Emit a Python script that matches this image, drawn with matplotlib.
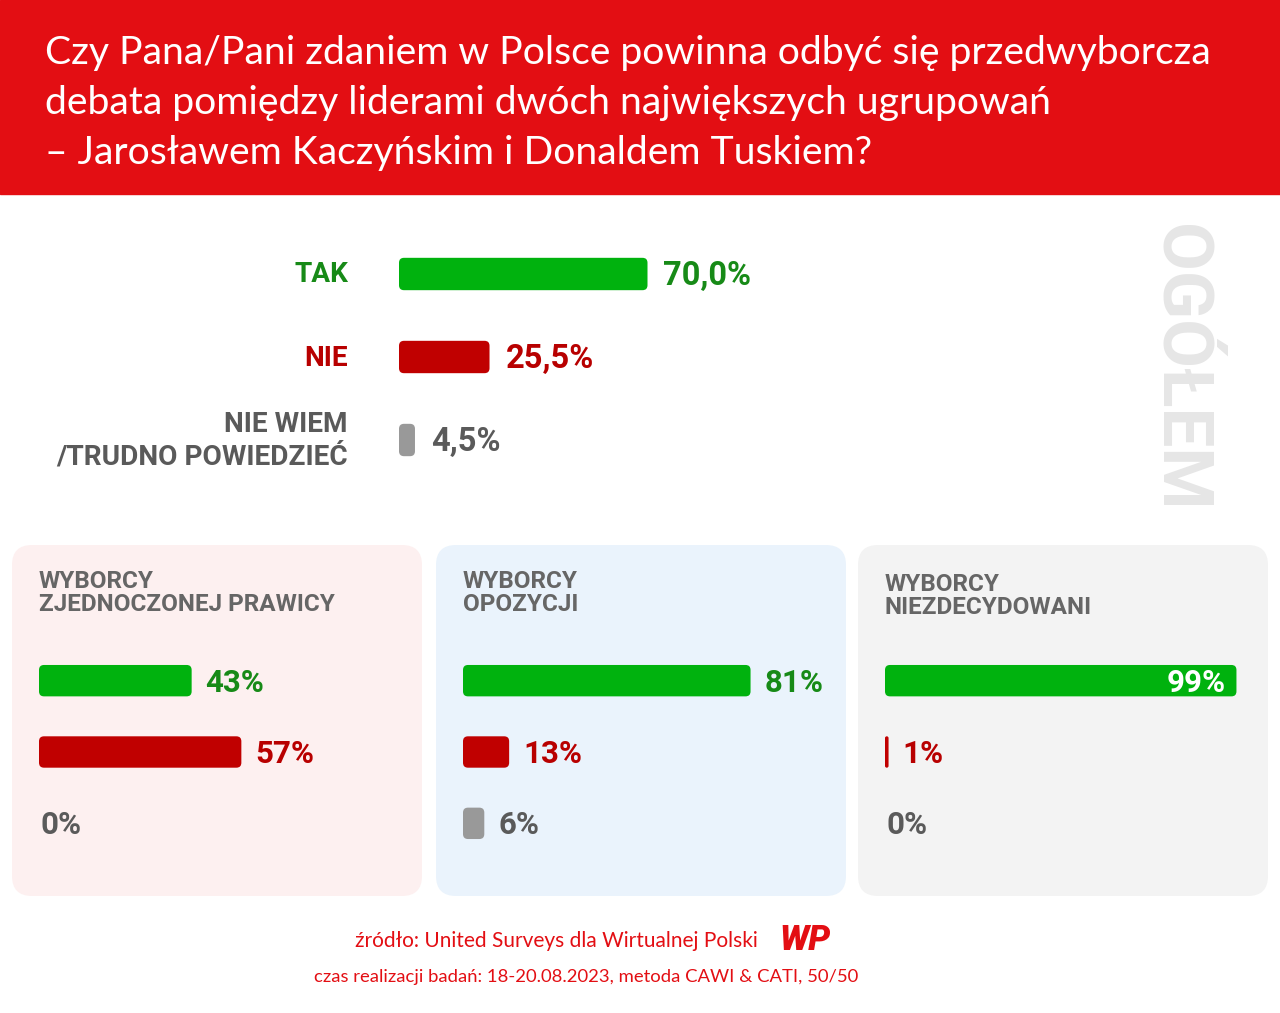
import matplotlib.pyplot as plt
from matplotlib.patches import FancyBboxPatch, Rectangle

# data
title_lines = ['Czy Pana/Pani zdaniem w Polsce powinna odbyć się przedwyborcza',
               'debata pomiędzy liderami dwóch największych ugrupowań',
               '– Jarosławem Kaczyńskim i Donaldem Tuskiem?']
answers = ['TAK', 'NIE', 'NIE WIEM\n/TRUDNO POWIEDZIEĆ']
overall = [70.0, 25.5, 4.5]
overall_labels = ['70,0%', '25,5%', '4,5%']

groups = ['WYBORCY\nZJEDNOCZONEJ PRAWICY', 'WYBORCY\nOPOZYCJI', 'WYBORCY\nNIEZDECYDOWANI']
group_values = [[43, 57, 0], [81, 13, 6], [99, 1, 0]]

source = 'źródło: United Surveys dla Wirtualnej Polski'
method = 'czas realizacji badań: 18-20.08.2023, metoda CAWI & CATI, 50/50'

bar_colors = ['#00b20e', '#c00000', '#999999']
text_colors = ['#178a17', '#b80000', '#5a5a5a']
panel_colors = ['#fdf0f0', '#eaf3fc', '#f3f3f3']
red = '#e30e13'

W, H = 1280, 1013
fig = plt.figure(figsize=(W / 100, H / 100), dpi=100)
fig.patch.set_facecolor('white')

# background axes in pixel units (y pointing down)
bg = fig.add_axes([0, 0, 1, 1])
bg.set_xlim(0, W)
bg.set_ylim(H, 0)
bg.axis('off')


def px_axes(x, y, w, h):
    ax = fig.add_axes([x / W, 1 - (y + h) / H, w / W, h / H])
    ax.set_xlim(0, 100)
    ax.set_ylim(2.5, -0.5)
    ax.axis('off')
    ax.patch.set_alpha(0)
    return ax


def round_bars(ax, bars, radius=5):
    # swap the square bars for rounded ones, same geometry
    inv = bg.transData.inverted()
    for b in bars:
        if b.get_width() <= 0:
            b.set_visible(False)
            continue
        (x0, y0), (x1, y1) = inv.transform(ax.transData.transform(
            [(b.get_x(), b.get_y()), (b.get_x() + b.get_width(), b.get_y() + b.get_height())]))
        x0, x1 = min(x0, x1), max(x0, x1)
        y0, y1 = min(y0, y1), max(y0, y1)
        r = min(radius, (x1 - x0) / 2, (y1 - y0) / 2)
        bg.add_patch(FancyBboxPatch((x0, y0), x1 - x0, y1 - y0,
                                    boxstyle=f'round,pad=0,rounding_size={r}',
                                    fc=b.get_facecolor(), ec='none', zorder=3))
        b.set_visible(False)


# red header with the question
bg.add_patch(Rectangle((0, 0), W, 194, color=red, zorder=0))
for i, line in enumerate(title_lines):
    bg.text(45, 64 + i * 50, line, color='white', fontsize=28.2,
            family='Lato', va='baseline', ha='left')

# big watermark
bg.text(1180, 224, 'OGÓŁEM', rotation=-90, color='#e6e6e6', fontsize=51,
        family='Roboto', weight='bold', ha='center', va='top')

# overall chart
ax = px_axes(399, 232.5, 355, 249)
bars = ax.barh(range(3), overall, height=0.39, color=bar_colors)
round_bars(ax, bars)
for i, (v, lab) in enumerate(zip(overall, overall_labels)):
    ax.annotate(lab, xy=(v, i), xytext=(16, -2), textcoords='offset pixels',
                va='center', ha='left', fontsize=23.5, family='Roboto',
                weight='bold', color=text_colors[i])
    ax.annotate(answers[i], xy=(0, i), xytext=(-51, -1), textcoords='offset pixels',
                va='center', ha='right', fontsize=20.2, family='Roboto',
                weight='bold', color=text_colors[i], linespacing=1.25)

# three voter panels
panel_x = [12, 436, 858]
for k in range(3):
    px = panel_x[k]
    bg.add_patch(FancyBboxPatch((px, 545), 410, 351,
                                boxstyle='round,pad=0,rounding_size=20',
                                fc=panel_colors[k], ec='none', zorder=1))
    bg.text(px + 27, 570 + (3 if k == 2 else 0), groups[k], color='#666666',
            fontsize=17.5, family='Roboto', weight='bold', va='top', ha='left',
            linespacing=1.0)

    ax = px_axes(px + 27, 645, 355, 214)
    vals = group_values[k]
    bars = ax.barh(range(3), vals, height=0.44, color=bar_colors)
    round_bars(ax, bars)
    for i, v in enumerate(vals):
        lab = f'{v}%'
        if v > 90:
            ax.annotate(lab, xy=(v, i), xytext=(-11, -2), textcoords='offset pixels',
                        va='center', ha='right', fontsize=22.5, family='Roboto',
                        weight='bold', color='white', zorder=5)
        else:
            off = 14 if v > 0 else 1
            ax.annotate(lab, xy=(v, i), xytext=(off, -2), textcoords='offset pixels',
                        va='center', ha='left', fontsize=22.5, family='Roboto',
                        weight='bold', color=text_colors[i])

# footer
bg.text(758, 941, source, color=red, fontsize=15, family='Lato',
        ha='right', va='center')
bg.text(586, 977, method, color=red, fontsize=13.3, family='Lato',
        ha='center', va='center')
bg.text(805, 940, 'WP', color=red, fontsize=25, family='Roboto', weight='black',
        style='italic', ha='center', va='center')

fig.savefig('out.png', dpi=100, facecolor='white')
